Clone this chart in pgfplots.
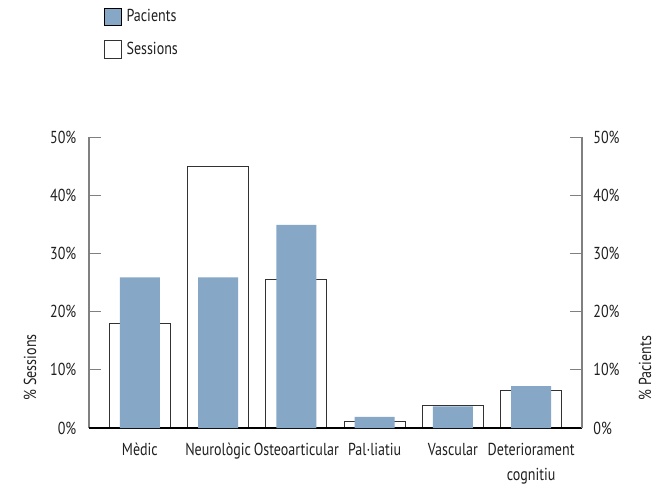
\documentclass[border=0pt]{standalone}
\usepackage{pgfplots}
\pgfplotsset{compat=1.18}
\usepackage{fontspec}
\setmainfont[FakeStretch=0.81]{PT Sans}

\definecolor{pacblue}{RGB}{135,167,199}
\definecolor{axgray}{RGB}{128,128,128}
\definecolor{bardraw}{RGB}{50,50,50}

\begin{document}
\begin{tikzpicture}[font=\fontsize{13}{19}\selectfont]
\path[use as bounding box] (0,0) rectangle (498pt,365.25pt);

% Sessions (left axis)
\begin{axis}[
  at={(66.75pt,44.25pt)}, anchor=south west,
  scale only axis,
  width=369.75pt, height=218.25pt,
  xmin=-0.65, xmax=5.65,
  ymin=0, ymax=50,
  axis x line*=bottom,
  axis y line*=left,
  x axis line style={black, line width=0.8pt, -},
  y axis line style={axgray, line width=0.8pt, -},
  tick align=inside,
  xtick={0,1,2,3,4,5},
  xticklabels={Mèdic,Neurològic,Osteoarticular,Pal·liatiu,Vascular,Deteriorament\\cognitiu},
  xticklabel style={align=center, text=black!88, yshift=1pt},
  major x tick style={draw=none},
  ytick={0,10,20,30,40,50},
  yticklabels={0\%,10\%,20\%,30\%,40\%,50\%},
  yticklabel style={text=black!88, xshift=-6pt},
  major y tick style={axgray, line width=0.6pt},
  major tick length=9pt,
  ylabel={\% Sessions},
  ylabel style={at={(rel axis cs:0,0)}, anchor=west,
    xshift=17.25pt, yshift=44.25pt, text=black!88},
  ybar, bar width=0.78,
]
\addplot[fill=white, draw=bardraw, line width=0.9pt] coordinates {
  (0,18.0) (1,44.9) (2,25.5) (3,1.1) (4,3.8) (5,6.5)
};
\end{axis}

% Pacients (right axis)
\begin{axis}[
  at={(66.75pt,44.25pt)}, anchor=south west,
  scale only axis,
  width=369.75pt, height=218.25pt,
  xmin=-0.65, xmax=5.65,
  ymin=0, ymax=50,
  axis x line*=bottom,
  axis y line*=right,
  x axis line style={black, line width=0.8pt, -},
  y axis line style={axgray, line width=0.8pt, -},
  tick align=inside,
  xtick=\empty,
  ytick={0,10,20,30,40,50},
  yticklabels={0\%,10\%,20\%,30\%,40\%,50\%},
  yticklabel style={text=black!88, xshift=5pt},
  major y tick style={axgray, line width=0.6pt},
  major tick length=9pt,
  ylabel={\% Pacients},
  ylabel style={at={(rel axis cs:1,0)}, anchor=west,
    xshift=17.25pt, yshift=-47.25pt, text=black!88},
  ybar, bar width=0.51,
  legend style={at={(rel axis cs:0.022,1.465)}, anchor=north west,
    draw=none, fill=none, row sep=7pt, text=black!88,
    legend cell align=left, nodes={inner sep=3.5pt},
    every legend entry/.append style={xshift=2pt}},
  legend image code/.code={\draw[#1] (0pt,-6.4pt) rectangle (12.75pt,6.4pt);},
]
\addplot[fill=pacblue, draw=none] coordinates {
  (0,25.9) (1,25.9) (2,34.9) (3,1.9) (4,3.7) (5,7.2)
};
\addlegendentry{Pacients}
\addlegendimage{fill=white, draw=bardraw, line width=0.6pt}
\addlegendentry{Sessions}
\end{axis}
\end{tikzpicture}
\end{document}
